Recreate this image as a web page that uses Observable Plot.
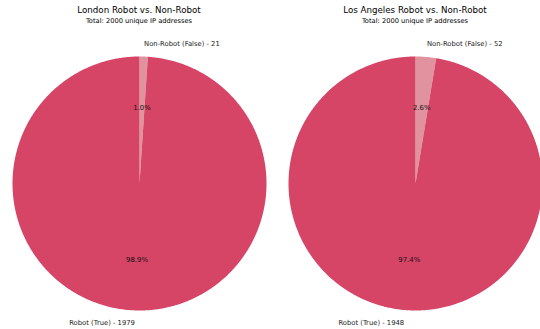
<!DOCTYPE html>
<html><head><meta charset="utf-8">
<script src="https://cdn.jsdelivr.net/npm/d3@7"></script>
<script src="https://cdn.jsdelivr.net/npm/@observablehq/plot@0.6"></script>
<style>
body{margin:0;background:#fff;font-family:"DejaVu Sans",sans-serif;}
#wrap{position:relative;width:540px;height:329px;overflow:hidden;background:#fff;}
.panel{position:absolute;top:0;width:270px;height:329px;}
.t1{position:absolute;top:0;left:0;width:278px;font-size:8.7px;line-height:20px;text-align:center;color:#000;white-space:nowrap;}
.t2{position:absolute;top:15px;left:0;width:278px;font-size:6.7px;line-height:12px;text-align:center;color:#000;white-space:nowrap;}
.chart{position:absolute;top:30px;left:0;}
</style></head>
<body><div id="wrap"></div>
<script>
const cities = ["London", "Los Angeles"];
const titles = ["London Robot vs. Non-Robot", "Los Angeles Robot vs. Non-Robot"];
const subtitles = ["Total: 2000 unique IP addresses", "Total: 2000 unique IP addresses"];
const categories = ["Non-Robot (False)", "Robot (True)"];
const londonCounts = [21, 1979];
const laCounts = [52, 1948];
const wedgeColors = ["#e0929f", "#d64466"];

const seriesList = [londonCounts, laCounts];
const panelLefts = [0, 276];

const W = 270, H = 299, CX = 139, CY = 153, R = 127;

function fmtPct(p) {
  return (Math.floor(p * 10 + 1e-6) / 10).toFixed(1) + "%";
}

function makePanel(i) {
  const counts = seriesList[i];
  const total = d3.sum(counts);
  let cum = 0;
  const wedges = counts.map((v, j) => {
    const frac = v / total;
    const t1 = 90 - 360 * cum;
    cum += frac;
    const t2 = 90 - 360 * cum;
    return {cat: categories[j], value: v, frac, t1, t2, mid: (t1 + t2) / 2};
  });
  const poly = [];
  for (const w of wedges) {
    poly.push({cat: w.cat, x: 0, y: 0});
    const n = Math.max(2, Math.ceil(Math.abs(w.t1 - w.t2) / 0.5));
    for (let k = 0; k <= n; k++) {
      const a = (w.t1 + (w.t2 - w.t1) * k / n) * Math.PI / 180;
      poly.push({cat: w.cat, x: Math.cos(a), y: Math.sin(a)});
    }
    poly.push({cat: w.cat, x: 0, y: 0});
  }
  const labels = wedges.map(w => {
    const a = w.mid * Math.PI / 180;
    return {
      text: `${w.cat} - ${w.value}`,
      pct: fmtPct(100 * w.frac),
      lx: 1.1 * Math.cos(a), ly: 1.1 * Math.sin(a),
      px: 0.6 * Math.cos(a), py: 0.6 * Math.sin(a)
    };
  });

  const chart = Plot.plot({
    width: W, height: H,
    margin: 0,
    x: {domain: [-CX / R, (W - CX) / R], axis: null},
    y: {domain: [-(H - CY) / R, CY / R], axis: null},
    color: {domain: categories, range: wedgeColors},
    style: {background: "transparent", overflow: "visible", fontFamily: "DejaVu Sans, sans-serif"},
    marks: [
      Plot.line(poly, {x: "x", y: "y", z: "cat", fill: "cat", stroke: null, curve: "linear"}),
      Plot.text(labels.filter(d => d.lx > 0), {x: "lx", y: "ly", text: "text", textAnchor: "start", fontSize: 6.8, fill: "#222"}),
      Plot.text(labels.filter(d => d.lx <= 0), {x: "lx", y: "ly", text: "text", textAnchor: "end", fontSize: 6.8, fill: "#222"}),
      Plot.text(labels, {x: "px", y: "py", text: "pct", textAnchor: "middle", fontSize: 6.9, fill: "#111"})
    ]
  });
  chart.classList.add("chart");

  const panel = document.createElement("div");
  panel.className = "panel";
  panel.style.left = panelLefts[i] + "px";
  const t1 = document.createElement("div");
  t1.className = "t1"; t1.textContent = titles[i];
  const t2 = document.createElement("div");
  t2.className = "t2"; t2.textContent = subtitles[i];
  panel.appendChild(t1);
  panel.appendChild(t2);
  panel.appendChild(chart);
  document.getElementById("wrap").appendChild(panel);
}
cities.forEach((c, i) => makePanel(i));
</script>
</body></html>
